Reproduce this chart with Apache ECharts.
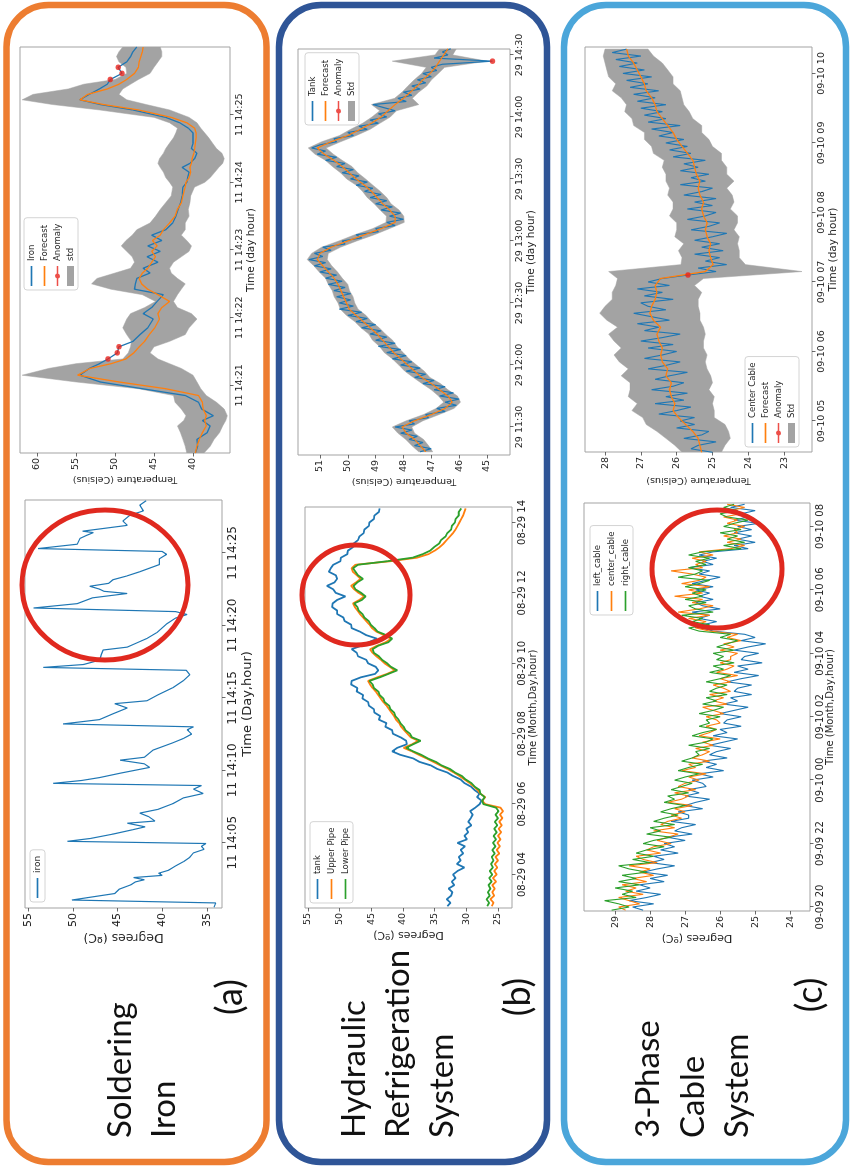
<!DOCTYPE html>
<html>
<head>
<meta charset="utf-8">
<title>Temperature anomaly figure</title>
<script src="https://cdn.jsdelivr.net/npm/echarts@6.0.0/dist/echarts.min.js"></script>
<style>
html,body{margin:0;padding:0;background:#ffffff;width:851px;height:1168px;overflow:hidden;}
#rot{position:absolute;left:0;top:0;width:1168px;height:851px;transform-origin:0 0;transform:translate(0px,1168px) rotate(-90deg);background:#fff;}
</style>
</head>
<body>
<div id="rot"></div>
<script>
// ================= DATA =================
// (a) Soldering iron, raw (x: minutes after 11 14:00)
const ironT = [0.55,0.85,1.05,1.2,1.5,1.8,2.1,2.3,2.45,2.6,2.75,2.9,3.1,3.4,3.7,4.0,4.3,4.55,4.75,4.95,
  5.1,5.3,5.6,5.9,6.1,6.35,6.5,6.8,7.05,7.3,7.7,8.1,8.4,8.7,8.95,
  9.1,9.3,9.5,9.8,10.2,10.45,10.7,10.9,11.4,11.9,12.2,12.5,12.8,13.0,
  13.2,13.5,13.9,14.3,14.6,14.8,15.2,15.7,16.2,16.6,16.9,
  17.1,17.3,17.6,18.0,18.3,18.5,18.8,19.1,19.5,20.1,20.5,20.75,20.95,
  21.2,21.5,21.9,22.2,22.35,22.5,22.7,22.9,23.15,23.4,23.7,24.2,24.6,24.9,25.1,
  25.3,25.6,26.0,26.2,26.4,26.5,26.9,27.2,27.6,27.9,28.3,28.6];
const ironV = [34.2,34.0,50.1,48.5,45.3,44.8,43.5,43.0,42.0,43.2,40.0,40.4,39.3,38.5,37.6,36.9,36.5,35.3,35.6,35.1,
  50.6,48.0,45.5,43.3,41.9,43.9,40.8,41.5,42.5,40.5,38.8,37.6,35.4,36.5,35.6,
  52.2,49.0,47.0,44.7,41.4,42.0,44.7,42.0,41.0,38.8,37.6,36.7,37.2,36.5,
  51.1,47.0,45.5,43.9,45.3,41.7,40.5,38.8,37.6,36.9,37.3,
  53.3,48.8,47.0,46.8,46.6,43.9,42.8,41.7,40.6,39.5,38.5,37.2,38.5,
  54.4,49.5,47.8,43.9,46.5,47.0,48.1,46.0,45.5,44.0,42.5,40.3,40.3,39.5,40.0,
  53.9,49.5,49.2,48.5,47.7,48.9,43.9,44.4,43.6,42.1,42.5,41.8];
const ironTicks = [5,10,15,20,25];
const ironTickLabels = ['11 14:05','11 14:10','11 14:15','11 14:20','11 14:25'];
const ironYTicks = [35,40,45,50,55];

// (a) Soldering iron, forecast (x: minutes after 11 14:00)
const a2T = [20.00,20.10,20.20,20.30,20.40,20.48,20.55,20.65,20.75,20.85,20.95,
  21.05,21.15,21.25,21.32,21.39,21.48,21.57,21.65,21.75,21.85,21.98,
  22.06,22.15,22.24,22.34,22.42,22.50,22.58,22.66,22.73,22.82,22.90,22.98,
  23.06,23.14,23.22,23.30,23.40,23.50,23.60,23.70,23.80,23.93,
  24.00,24.07,24.15,24.22,24.28,24.35,24.43,24.50,24.58,24.66,24.73,24.80,24.88,24.96,
  25.07,25.15,25.22,25.30,25.38,25.45,25.52,25.61,25.70,25.78,25.86,25.93,26.00];
const a2Iron = [39.7,39.4,39.5,38.2,37.8,38.8,37.4,38.9,39.3,41.0,46.5,
  51.9,54.5,53.3,52.0,50.9,49.7,49.5,47.7,46.8,45.8,45.1,
  46.4,45.3,44.6,43.8,47.5,47.4,47.2,45.5,46.4,44.5,45.9,44.2,
  45.8,44.0,45.3,43.5,42.6,42.2,41.9,41.6,41.4,41.3,
  40.8,40.7,40.5,41.4,40.4,39.8,39.5,40.2,40.0,40.0,40.0,40.6,41.7,43.5,
  47.7,51.9,54.5,53.3,52.0,51.0,50.6,49.1,49.6,48.5,48.0,47.7,47.2];
const a2Forecast = [39.7,39.5,39.2,38.8,38.3,38.5,38.3,38.7,38.8,39.3,43.5,
  49.5,54.8,53.2,50.5,48.6,47.6,46.9,46.2,45.6,44.9,44.3,
  44.5,44.0,43.0,44.5,45.8,46.6,46.9,46.5,45.8,45.3,44.8,45.3,
  44.6,45.2,44.2,43.8,43.0,42.3,42.0,41.5,41.3,41.0,
  40.9,40.5,40.3,40.4,40.2,40.1,39.9,39.8,39.7,39.6,39.6,39.8,40.8,42.8,
  47.0,51.5,54.5,53.5,51.0,49.5,48.5,47.5,47.0,46.9,46.7,46.5,46.4];
const a2StdLow = [38.6,37.8,37.3,36.6,36.2,35.8,35.6,36.0,37.0,38.3,39.0,
  39.5,40.0,41.5,43.0,44.5,45.5,45.0,43.0,41.0,40.5,39.5,
  40.2,42.0,42.5,42.0,41.5,41.0,42.0,42.8,43.0,42.5,41.5,40.5,
  40.2,40.8,41.5,41.0,41.0,40.5,40.6,40.4,40.3,39.8,
  38.5,37.8,37.2,36.7,36.2,36.0,36.3,37.0,37.5,38.0,38.5,39.0,39.5,40.5,
  43.0,46.0,48.5,49.5,49.0,48.0,47.0,45.5,45.0,44.5,44.0,44.0,44.2];
const a2StdHigh = [40.8,41.0,41.3,41.6,42.0,41.2,40.9,41.5,42.3,42.5,47.0,
  55.0,61.9,58.5,55.0,49.0,48.3,48.0,47.9,48.5,49.0,48.5,
  48.0,46.2,44.8,46.5,50.5,53.0,52.3,50.0,48.0,47.5,47.8,48.5,
  49.2,48.6,47.8,47.2,45.5,44.8,44.2,43.5,42.8,42.6,
  43.0,43.5,43.8,44.2,44.5,44.3,43.8,43.5,43.0,42.5,42.2,42.0,43.0,45.0,
  52.0,58.0,61.9,60.5,56.0,54.0,50.0,48.5,48.6,49.5,49.8,49.5,49.0];
const a2AnomT = [21.39,21.48,21.57,25.52,25.61,25.70];
const a2AnomV = [50.9,49.7,49.5,50.6,49.1,49.6];
const a2Ticks = [21,22,23,24,25];
const a2TickLabels = ['11 14:21','11 14:22','11 14:23','11 14:24','11 14:25'];
const a2YTicks = [40,45,50,55,60];

// (b) Hydraulic refrigeration, raw (x: hours of 08-29), sampled every 0.1 h from 3.1 h
const b1Start = 3.1, b1Step = 0.1;
const b1Tank = [33.0,32.5,33.1,32.4,32.2,32.8,31.9,32.3,31.7,32.1,
  31.4,30.3,31.5,30.9,31.2,30.5,30.9,30.2,31.4,29.9,
  30.3,29.7,30.0,29.2,29.7,29.3,29.0,29.4,28.6,27.9,
  27.6,28.3,27.9,28.7,29.3,30.3,30.9,32.1,33.0,34.6,
  35.6,37.4,38.4,40.4,41.7,40.9,39.4,39.5,40.4,41.6,
  41.7,42.8,42.6,43.8,43.6,44.5,44.6,45.4,45.5,46.4,
  46.3,47.3,47.2,48.2,48.1,46.7,44.4,43.9,44.3,45.5,
  45.8,47.1,47.3,48.1,46.6,45.4,44.1,45.8,46.8,48.1,
  48.2,49.2,49.4,50.4,50.4,51.2,51.1,50.4,49.1,50.6,
  51.0,52.0,50.8,50.4,50.6,51.7,51.4,51.0,49.9,49.8,
  48.8,48.7,47.9,47.8,47.1,46.9,46.2,46.1,45.4,45.3,
  44.6,44.5,43.8,43.7];
const b1Upper = [26.0,25.7,26.2,25.6,25.9,25.5,25.9,25.3,25.8,25.2,
  25.6,25.1,25.5,25.0,25.4,24.8,25.2,24.7,25.1,24.6,
  25.0,24.5,24.9,24.4,24.8,24.3,24.7,24.2,24.6,27.0,
  27.5,27.0,27.8,28.2,28.8,29.5,30.3,31.1,32.0,33.0,
  34.1,35.2,36.3,37.5,38.6,39.9,38.6,37.6,38.8,39.3,
  39.8,40.3,40.6,41.1,41.4,41.8,42.2,42.6,43.1,43.5,
  43.9,44.3,44.8,45.2,45.5,44.1,42.5,41.3,42.1,42.9,
  43.5,44.2,44.8,45.2,44.1,42.7,41.9,43.0,44.2,44.9,
  45.3,45.8,46.3,46.8,47.2,47.6,47.9,46.9,46.1,47.0,
  47.7,48.2,47.4,46.7,47.3,47.9,48.1,47.5,42.0,37.8,
  36.0,35.0,34.2,33.6,33.1,32.6,32.1,31.7,31.4,31.1,
  30.8,30.5,30.3,30.1];
const b1Lower = [26.7,26.4,26.8,26.3,26.6,26.2,26.5,26.0,26.4,25.9,
  26.3,25.8,26.1,25.7,26.0,25.5,25.9,25.4,25.8,25.3,
  25.7,25.2,25.6,25.1,25.5,25.0,25.4,24.9,25.3,27.3,
  27.5,27.1,27.8,27.9,28.7,29.2,30.1,30.7,31.8,32.6,
  33.9,34.8,36.1,37.1,38.4,39.5,38.4,37.2,38.6,38.9,
  39.6,39.9,40.4,40.7,41.2,41.4,42.0,42.2,42.9,43.1,
  43.7,43.9,44.6,44.8,45.3,43.7,42.3,40.9,41.9,42.5,
  43.3,43.8,44.6,44.8,43.9,42.3,41.7,42.6,44.0,44.5,
  45.1,45.4,46.1,46.4,47.0,47.2,47.7,46.5,45.9,46.6,
  47.5,47.8,47.2,46.3,47.1,47.5,47.9,47.1,42.5,38.5,
  36.9,35.7,35.1,34.3,34.0,33.3,33.0,32.4,32.3,31.8,
  31.7,31.2,31.2,30.8];
const b1Ticks = [4,6,8,10,12,14];
const b1TickLabels = ['08-29 04','08-29 06','08-29 08','08-29 10','08-29 12','08-29 14'];
const b1YTicks = [25,30,35,40,45,50,55];

// (b) Hydraulic refrigeration, forecast (x: hours of day 29)
const b2Start = 11.30, b2Step = 0.025;    // tank samples
const b2Tank = [47.4,47.0,47.6,47.3,47.8,47.5,48.1,47.7,48.3,47.6,
  47.8,47.1,47.2,46.5,46.8,46.1,46.5,46.0,46.7,46.2,
  46.9,46.5,47.3,46.9,47.6,47.2,47.9,47.4,48.1,47.7,
  48.4,47.9,48.6,48.1,48.9,48.3,49.0,48.6,49.2,48.8,
  49.5,49.0,49.7,49.3,50.0,49.5,50.3,49.8,50.3,49.9,
  50.4,49.9,50.5,50.1,50.7,50.2,50.8,50.4,51.0,50.6,
  51.2,50.8,51.4,50.9,51.2,50.6,50.9,50.1,50.2,49.5,
  49.7,48.9,49.0,48.3,48.6,48.0,48.5,48.1,48.8,48.4,
  49.0,48.6,49.2,48.8,49.4,49.1,49.7,49.3,49.9,49.6,
  50.2,49.8,50.4,50.1,50.8,50.4,51.1,50.8,51.3,51.0,
  50.4,50.5,49.8,50.0,49.3,49.6,48.9,49.2,48.6,48.9,
  48.3,48.7,49.1,47.9,48.2,47.7,48.0,47.4,47.7,47.2,
  47.5,47.0,47.3,46.8,47.0,46.6,44.8,46.9,46.4,46.6,
  46.3];
const b2FStart = 11.30, b2FStep = 0.05;   // forecast / std samples
const b2Forecast = [47.2,47.4,47.6,47.9,48.05,47.6,47.0,46.5,46.25,46.4,
  46.7,47.0,47.35,47.6,47.85,48.1,48.35,48.55,48.75,48.95,
  49.2,49.45,49.7,49.95,50.05,50.15,50.25,50.35,50.5,50.7,
  50.9,51.1,51.0,50.6,50.0,49.4,48.8,48.3,48.3,48.5,
  48.75,48.95,49.15,49.4,49.7,49.95,50.2,50.5,50.85,51.1,
  50.6,50.0,49.55,49.15,48.8,48.55,48.3,48.0,47.75,47.5,
  47.3,47.05,46.85,46.7,46.55,46.4];
const b2Std = [0.25,0.3,0.32,0.3,0.35,0.3,0.28,0.32,0.3,0.34,
  0.3,0.33,0.3,0.35,0.32,0.3,0.34,0.31,0.36,0.3,
  0.33,0.3,0.35,0.32,0.3,0.34,0.31,0.35,0.3,0.33,
  0.32,0.36,0.3,0.34,0.32,0.35,0.3,0.33,0.31,0.34,
  0.3,0.35,0.32,0.3,0.34,0.31,0.35,0.3,0.33,0.32,
  0.34,0.3,0.35,0.31,0.33,0.3,0.85,0.32,0.3,0.34,
  0.31,0.3,0.33,1.7,0.32,0.3];
const b2AnomT = [14.45];
const b2AnomV = [44.8];
const b2Ticks = [11.5,12,12.5,13,13.5,14,14.5];
const b2TickLabels = ['29 11:30','29 12:00','29 12:30','29 13:00','29 13:30','29 14:00','29 14:30'];
const b2YTicks = [45,46,47,48,49,50,51];

// (c) 3-phase cable, raw (x: hours from 09-09 00:00), every 0.1 h from 19.9 h
const c1Start = 19.9, c1Step = 0.1;
const c1Left = [28.2,28.5,27.9,28.6,28.1,27.7,28.4,28.0,28.3,27.6,
  28.0,27.5,28.2,27.8,27.3,28.0,27.6,27.9,27.2,27.7,
  27.3,27.6,27.0,27.5,26.8,27.3,27.1,26.7,27.4,26.9,
  26.9,27.2,26.5,27.0,26.7,26.3,27.0,26.6,26.9,26.4,
  26.5,26.8,26.2,26.6,25.9,26.4,26.1,26.5,25.8,26.3,
  26.1,25.7,26.3,25.9,25.5,26.2,25.8,26.0,25.4,25.9,
  25.8,25.4,26.0,25.6,25.2,25.9,25.5,25.7,25.1,25.6,
  25.5,25.1,25.8,25.4,24.9,25.6,25.2,25.5,24.8,25.4,
  25.3,24.9,25.6,25.2,24.7,25.4,25.0,25.3,26.2,26.5,
  26.5,26.1,26.6,26.3,26.8,26.0,26.5,26.7,26.2,26.6,
  26.3,26.7,26.2,26.8,26.4,26.0,26.6,26.3,26.9,26.2,
  26.5,26.1,26.6,26.2,25.2,25.6,25.0,25.5,25.1,25.6,
  25.1,25.5,24.9,25.6,25.2,25.4,25.0,25.7,25.3];
const c1Center = [28.7,28.9,28.3,28.6,28.9,28.2,28.7,28.4,28.8,28.1,
  28.5,27.9,28.3,28.0,28.6,27.8,28.2,28.4,27.7,28.1,
  27.9,27.4,27.8,27.5,27.2,27.9,27.3,27.7,27.5,27.1,
  27.4,27.0,27.3,26.8,27.5,27.1,26.9,27.3,26.7,27.2,
  27.0,26.6,26.9,26.4,27.1,26.7,26.9,26.3,26.8,26.5,
  26.3,26.7,26.2,26.5,26.0,26.6,26.3,26.1,26.4,26.0,
  26.1,26.4,25.9,26.2,26.5,25.8,26.2,25.9,26.3,25.7,
  25.9,26.2,25.7,26.0,25.5,26.1,25.8,25.6,26.0,25.7,
  25.7,25.5,26.0,25.6,25.9,25.4,25.8,25.5,26.3,26.7,
  26.7,26.4,26.9,26.3,27.2,26.6,26.2,26.8,26.5,27.3,
  26.5,26.9,26.3,27.1,26.6,26.4,26.8,27.4,26.5,26.7,
  26.4,26.8,26.2,26.6,25.7,25.3,25.8,25.4,25.9,25.5,
  25.6,25.3,25.8,25.5,25.9,25.4,25.7,25.3,25.8];
const c1Right = [29.1,28.6,28.9,29.3,28.4,28.8,28.5,29.0,28.3,28.9,
  28.4,28.8,28.1,28.6,28.9,28.0,28.5,27.9,28.4,28.1,
  27.6,28.2,27.9,27.4,28.1,27.7,28.0,27.3,27.9,27.6,
  27.2,27.7,27.4,27.0,27.6,27.3,27.5,26.9,27.4,27.1,
  26.8,27.3,27.0,26.6,27.2,26.9,26.5,27.1,26.8,26.6,
  26.7,26.3,26.9,26.4,26.2,26.8,26.5,26.1,26.6,26.3,
  26.4,26.0,26.6,26.2,25.9,26.5,26.1,26.4,25.8,26.3,
  26.1,25.8,26.4,26.0,25.7,26.3,25.9,26.2,25.6,26.1,
  25.9,26.2,25.6,26.1,25.8,25.5,26.0,25.7,26.6,26.9,
  26.3,26.8,26.5,27.1,26.2,26.7,26.9,26.4,27.0,26.5,
  26.8,26.4,27.0,26.6,26.3,27.2,26.7,26.5,26.9,26.4,
  26.7,26.3,26.9,26.5,25.4,25.9,25.3,25.8,25.5,26.0,
  25.4,25.9,25.6,25.2,25.8,26.0,25.5,25.9,25.6];
const c1Ticks = [20,22,24,26,28,30,32];
const c1TickLabels = ['09-09 20','09-09 22','09-10 00','09-10 02','09-10 04','09-10 06','09-10 08'];
const c1YTicks = [24,25,26,27,28,29];

// (c) 3-phase cable, forecast (x: hours of 09-10)
const c2Start = 4.55, c2Step = 0.05;      // center cable samples
const c2Center = [25.0,25.6,25.4,24.9,25.8,25.3,25.1,26.0,25.5,25.9,
  25.5,26.5,26.0,25.6,26.6,25.8,26.3,25.7,26.7,26.1,
  25.8,26.6,26.2,25.7,26.8,26.3,25.9,26.9,26.4,26.0,
  26.8,26.1,27.0,26.4,25.9,26.9,26.5,27.1,26.2,26.7,
  27.2,26.3,26.8,27.0,26.1,26.9,26.4,27.1,26.2,26.8,
  26.4,25.68,24.9,25.4,24.6,25.2,24.8,25.5,24.7,25.3,
  24.8,25.5,25.0,24.6,25.6,25.1,24.8,25.7,25.2,24.9,
  25.7,25.0,25.5,24.9,25.8,25.3,25.0,25.9,25.2,25.6,
  25.1,25.9,25.4,25.8,25.2,26.1,25.6,26.2,25.7,26.3,
  25.8,26.5,26.1,26.7,25.9,26.8,26.3,26.9,26.4,27.0,
  26.3,27.1,26.6,27.2,26.5,27.3,26.8,27.4,26.7,27.5,
  26.9,27.6,27.1,27.7,27.0,27.8,27.4];
const c2FStart = 4.55, c2FStep = 0.1;     // forecast / std samples
const c2Forecast = [25.30,25.35,25.40,25.55,25.75,25.95,26.10,26.05,26.15,26.20,
  26.15,26.30,26.25,26.40,26.45,26.40,26.50,26.55,26.45,26.65,
  26.75,26.70,26.60,26.55,26.60,26.45,25.20,24.98,25.05,25.10,
  25.05,25.15,25.20,25.15,25.25,25.30,25.25,25.35,25.40,25.35,
  25.45,25.50,25.55,25.70,25.85,26.00,26.10,26.25,26.40,26.55,
  26.60,26.70,26.85,26.90,27.00,27.10,27.20,27.35,27.40];
const c2Std = [0.55,0.7,0.9,1.0,1.1,1.0,1.15,1.05,1.2,1.1,
  1.15,1.25,1.1,1.2,1.3,1.15,1.25,1.35,1.2,1.3,
  1.4,1.3,1.2,1.25,1.1,1.2,2.7,0.9,0.8,0.85,
  0.75,0.9,0.8,0.85,0.95,0.8,0.85,0.9,0.8,0.95,
  0.85,0.9,0.8,0.95,0.85,0.9,0.8,0.95,0.85,0.9,
  0.8,0.85,0.95,0.8,0.9,0.85,0.8,0.7,0.6];
const c2AnomT = [7.1];
const c2AnomV = [25.68];
const c2Ticks = [5,6,7,8,9,10];
const c2TickLabels = ['09-10 05','09-10 06','09-10 07','09-10 08','09-10 09','09-10 10'];
const c2YTicks = [23,24,25,26,27,28];

// ================= BUILD =================
const FONT = 'DejaVu Sans, sans-serif';
const TXT = '#262626';
const BLUE = '#1f77b4', ORANGE = '#ff7f0e', GREEN = '#2ca02c', RED = '#e8231c', GREY = '#a3a3a3';

const zip = (T, V) => T.map((t, i) => [t, V[i]]);
const times = (start, step, n) => Array.from({length: n}, (_, i) => +(start + step * i).toFixed(4));

const b1T = times(b1Start, b1Step, b1Tank.length);
const b2T = times(b2Start, b2Step, b2Tank.length);
const b2FT = times(b2FStart, b2FStep, b2Forecast.length);
const c1T = times(c1Start, c1Step, c1Left.length);
const c2T = times(c2Start, c2Step, c2Center.length);
const c2FT = times(c2FStart, c2FStep, c2Forecast.length);

function mkGrid(l, t, w, h) {
  return {left: l, top: t, width: w, height: h, show: true, borderColor: '#a3a3a3', borderWidth: 1, backgroundColor: 'rgba(0,0,0,0)'};
}
function mkX(gi, min, max, ticks, labels, fs, name, nfs, gap) {
  const map = {};
  ticks.forEach((t, i) => { map[String(t)] = labels[i]; });
  return {
    type: 'value', gridIndex: gi, min: min, max: max, splitLine: {show: false},
    axisLine: {show: false},
    axisTick: {show: true, length: 3.5, lineStyle: {color: '#444', width: 0.8}, customValues: ticks},
    axisLabel: {show: true, customValues: ticks, formatter: v => map[String(v)] || '', fontSize: fs, color: TXT, fontFamily: FONT, margin: 5},
    name: name, nameLocation: 'middle', nameGap: gap,
    nameTextStyle: {fontSize: nfs, color: TXT, fontFamily: FONT}
  };
}
function mkY(gi, min, max, ticks, fs, name, nfs, gap) {
  return {
    type: 'value', gridIndex: gi, min: min, max: max, splitLine: {show: false},
    axisLine: {show: false},
    axisTick: {show: true, length: 3.5, lineStyle: {color: '#444', width: 0.8}, customValues: ticks},
    axisLabel: {show: true, customValues: ticks, fontSize: fs, color: TXT, fontFamily: FONT, margin: 5},
    name: name, nameLocation: 'middle', nameRotate: 90, nameGap: gap,
    nameTextStyle: {fontSize: nfs, color: TXT, fontFamily: FONT}
  };
}
function lineS(name, gi, data, color, width, z) {
  return {type: 'line', name: name, xAxisIndex: gi, yAxisIndex: gi, data: data, showSymbol: false, symbol: 'none',
    lineStyle: {color: color, width: width}, itemStyle: {color: color}, z: z || 2, clip: true, animation: false, silent: true};
}
function bandS(name, gi, T, lo, hi) {
  return {
    type: 'custom', name: name, xAxisIndex: gi, yAxisIndex: gi, clip: true, z: 1, silent: true,
    itemStyle: {color: GREY},
    data: T.map((t, i) => [t, lo[i], hi[i]]),
    encode: {x: 0, y: [1, 2]},
    renderItem: function (params, api) {
      if (params.dataIndex !== 0) return null;
      const pts = [];
      for (let i = 0; i < T.length; i++) pts.push(api.coord([T[i], hi[i]]));
      for (let i = T.length - 1; i >= 0; i--) pts.push(api.coord([T[i], lo[i]]));
      return {type: 'polygon', shape: {points: pts}, style: {fill: GREY, stroke: GREY, lineWidth: 0.5}};
    }
  };
}
function scatterS(name, gi, T, V) {
  return {type: 'scatter', name: name, xAxisIndex: gi, yAxisIndex: gi, data: zip(T, V), symbol: 'circle', symbolSize: 5.5,
    itemStyle: {color: RED}, z: 5, silent: true, animation: false};
}

const b2Lo = b2Forecast.map((f, i) => f - b2Std[i]);
const b2Hi = b2Forecast.map((f, i) => f + b2Std[i]);
const c2Lo = c2Forecast.map((f, i) => f - c2Std[i]);
const c2Hi = c2Forecast.map((f, i) => f + c2Std[i]);

const LINE_ICON = 'path://M0,0L24,0L24,2L0,2Z';
const ANOM_ICON = 'path://M0,4L24,4L24,6L0,6Z M12,2A3,3 0 1,1 11.99,2Z';
function legendCfg(left, top, items, fs, gap) {
  return {show: true, orient: 'vertical', left: left, top: top, itemWidth: 20, itemHeight: 7, itemGap: gap,
    padding: [3, 6, 3, 4], backgroundColor: 'rgba(255,255,255,0.85)', borderColor: '#d4d4d4', borderWidth: 1, borderRadius: 3,
    selectedMode: false, textStyle: {fontSize: fs, color: TXT, fontFamily: FONT}, data: items};
}
function fcItems(first, stdName) {
  return [{name: first, icon: LINE_ICON}, {name: 'Forecast', icon: LINE_ICON},
    {name: 'Anomaly', icon: ANOM_ICON}, {name: stdName, icon: 'rect', itemStyle: {color: GREY}}];
}

const option = {
  animation: false,
  backgroundColor: '#ffffff',
  grid: [
    mkGrid(260, 25, 408, 197),
    mkGrid(715, 20, 406, 210),
    mkGrid(260, 305, 401, 207),
    mkGrid(713, 298, 406, 212),
    mkGrid(257, 584, 408, 226),
    mkGrid(716, 585, 405, 227)
  ],
  xAxis: [
    mkX(0, 0.5, 28.65, ironTicks, ironTickLabels, 12, 'Time (Day,hour)', 13, 19),
    mkX(1, 20.0, 26.0, a2Ticks, a2TickLabels, 9.5, 'Time (day hour)', 10.5, 15),
    mkX(2, 3.05, 14.44, b1Ticks, b1TickLabels, 10, 'Time (Month,Day,hour)', 10, 16),
    mkX(3, 11.274, 14.548, b2Ticks, b2TickLabels, 9.5, 'Time (day hour)', 10.5, 15),
    mkX(4, 19.874, 32.74, c1Ticks, c1TickLabels, 10, 'Time (Month,Day,hour)', 10, 14),
    mkX(5, 4.554, 10.38, c2Ticks, c2TickLabels, 9.5, 'Time (day hour)', 10.5, 15)
  ],
  yAxis: [
    mkY(0, 33.3, 55.35, ironYTicks, 11, 'Degrees (ºC)', 12.5, 21),
    mkY(1, 35.26, 62.18, a2YTicks, 9.5, 'Temperature (Celsius)', 9.5, 20),
    mkY(2, 22.79, 55.47, b1YTicks, 9.5, 'Degrees (ºC)', 11, 19),
    mkY(3, 44.17, 51.79, b2YTicks, 9.5, 'Temperature (Celsius)', 9.5, 20),
    mkY(4, 23.43, 29.89, c1YTicks, 9.5, 'Degrees (ºC)', 11, 20),
    mkY(5, 22.22, 28.56, c2YTicks, 9.5, 'Temperature (Celsius)', 9.5, 23)
  ],
  legend: [
    legendCfg(266, 30, [{name: 'iron', icon: LINE_ICON}], 9, 4),
    legendCfg(878, 24, fcItems('Iron', 'std'), 8.5, 4),
    legendCfg(265, 310, [{name: 'tank', icon: LINE_ICON}, {name: 'Upper Pipe', icon: LINE_ICON}, {name: 'Lower Pipe', icon: LINE_ICON}], 8.5, 5),
    legendCfg(1043, 305, fcItems('Tank', 'Std'), 8.5, 4),
    legendCfg(553, 590, [{name: 'left_cable', icon: LINE_ICON}, {name: 'center_cable', icon: LINE_ICON}, {name: 'right_cable', icon: LINE_ICON}], 8.5, 5),
    legendCfg(721, 745, fcItems('Center Cable', 'Std'), 8.5, 4)
  ],
  series: [
    lineS('iron', 0, zip(ironT, ironV), BLUE, 1.2),

    bandS('std', 1, a2T, a2StdLow, a2StdHigh),
    lineS('Iron', 1, zip(a2T, a2Iron), BLUE, 1.3, 2),
    lineS('Forecast', 1, zip(a2T, a2Forecast), ORANGE, 1.3, 3),
    scatterS('Anomaly', 1, a2AnomT, a2AnomV),

    lineS('tank', 2, zip(b1T, b1Tank), BLUE, 1.8, 2),
    lineS('Upper Pipe', 2, zip(b1T, b1Upper), ORANGE, 1.8, 3),
    lineS('Lower Pipe', 2, zip(b1T, b1Lower), GREEN, 1.8, 4),

    bandS('Std', 3, b2FT, b2Lo, b2Hi),
    lineS('Tank', 3, zip(b2T, b2Tank), BLUE, 1.2, 2),
    lineS('Forecast', 3, zip(b2FT, b2Forecast), ORANGE, 1.2, 3),
    scatterS('Anomaly', 3, b2AnomT, b2AnomV),

    lineS('left_cable', 4, zip(c1T, c1Left), BLUE, 1.1, 2),
    lineS('center_cable', 4, zip(c1T, c1Center), ORANGE, 1.1, 3),
    lineS('right_cable', 4, zip(c1T, c1Right), GREEN, 1.1, 4),

    bandS('Std', 5, c2FT, c2Lo, c2Hi),
    lineS('Center Cable', 5, zip(c2T, c2Center), BLUE, 1.1, 2),
    lineS('Forecast', 5, zip(c2FT, c2Forecast), ORANGE, 1.3, 3),
    scatterS('Anomaly', 5, c2AnomT, c2AnomV)
  ],
  graphic: [
    {type: 'rect', z: 0, silent: true, shape: {x: 6, y: 6.5, width: 1157, height: 260, r: 42}, style: {fill: 'none', stroke: '#ED7D31', lineWidth: 6.5}},
    {type: 'rect', z: 0, silent: true, shape: {x: 6, y: 279, width: 1157, height: 268, r: 42}, style: {fill: 'none', stroke: '#2F5597', lineWidth: 6.5}},
    {type: 'rect', z: 0, silent: true, shape: {x: 6, y: 564, width: 1157, height: 282, r: 42}, style: {fill: 'none', stroke: '#4BA6DA', lineWidth: 6.5}},

    {type: 'text', z: 10, silent: true, x: 30, y: 120, style: {text: 'Soldering', font: '33px Lato', fill: '#111', textAlign: 'left', textVerticalAlign: 'middle'}},
    {type: 'text', z: 10, silent: true, x: 30, y: 164, style: {text: 'Iron', font: '33px Lato', fill: '#111', textAlign: 'left', textVerticalAlign: 'middle'}},
    {type: 'text', z: 10, silent: true, x: 171, y: 230, style: {text: '(a)', font: '36px Lato', fill: '#111', textAlign: 'center', textVerticalAlign: 'middle'}},

    {type: 'text', z: 10, silent: true, x: 30, y: 354, style: {text: 'Hydraulic', font: '33px Lato', fill: '#111', textAlign: 'left', textVerticalAlign: 'middle'}},
    {type: 'text', z: 10, silent: true, x: 30, y: 398, style: {text: 'Refrigeration', font: '33px Lato', fill: '#111', textAlign: 'left', textVerticalAlign: 'middle'}},
    {type: 'text', z: 10, silent: true, x: 30, y: 442, style: {text: 'System', font: '33px Lato', fill: '#111', textAlign: 'left', textVerticalAlign: 'middle'}},
    {type: 'text', z: 10, silent: true, x: 171, y: 518, style: {text: '(b)', font: '36px Lato', fill: '#111', textAlign: 'center', textVerticalAlign: 'middle'}},

    {type: 'text', z: 10, silent: true, x: 30, y: 648, style: {text: '3-Phase', font: '33px Lato', fill: '#111', textAlign: 'left', textVerticalAlign: 'middle'}},
    {type: 'text', z: 10, silent: true, x: 30, y: 693, style: {text: 'Cable', font: '33px Lato', fill: '#111', textAlign: 'left', textVerticalAlign: 'middle'}},
    {type: 'text', z: 10, silent: true, x: 30, y: 737, style: {text: 'System', font: '33px Lato', fill: '#111', textAlign: 'left', textVerticalAlign: 'middle'}},
    {type: 'text', z: 10, silent: true, x: 173, y: 810, style: {text: '(c)', font: '36px Lato', fill: '#111', textAlign: 'center', textVerticalAlign: 'middle'}},

    {type: 'ellipse', z: 20, silent: true, shape: {cx: 583, cy: 105, rx: 75, ry: 83}, style: {fill: 'none', stroke: '#E0291F', lineWidth: 5}},
    {type: 'ellipse', z: 20, silent: true, shape: {cx: 573, cy: 356, rx: 50, ry: 54}, style: {fill: 'none', stroke: '#E0291F', lineWidth: 5}},
    {type: 'ellipse', z: 20, silent: true, shape: {cx: 599, cy: 717, rx: 59, ry: 65}, style: {fill: 'none', stroke: '#E0291F', lineWidth: 5}}
  ]
};

const chart = echarts.init(document.getElementById('rot'), null, {renderer: 'canvas', width: 1168, height: 851});
chart.setOption(option);
</script>
</body>
</html>
